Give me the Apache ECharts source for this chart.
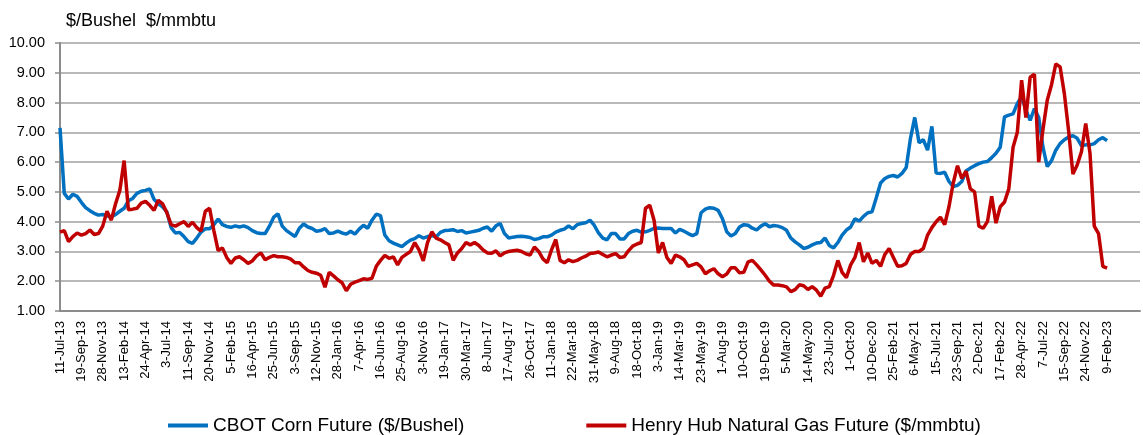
<!DOCTYPE html>
<html>
<head>
<meta charset="utf-8">
<script src="https://cdn.jsdelivr.net/npm/echarts@6/dist/echarts.min.js"></script>
<style>
  html, body { margin: 0; padding: 0; background: #fff; }
  #chart { width: 1143px; height: 435px; }
</style>
</head>
<body>
<div id="chart"></div>
<script>
// x-axis labels, one every 5 data points (each point ~10 trading days)
const tickLabels = ['11-Jul-13', '19-Sep-13', '28-Nov-13', '13-Feb-14', '24-Apr-14', '3-Jul-14', '11-Sep-14', '20-Nov-14',
  '5-Feb-15', '16-Apr-15', '25-Jun-15', '3-Sep-15', '12-Nov-15', '28-Jan-16', '7-Apr-16', '16-Jun-16', '25-Aug-16',
  '3-Nov-16', '19-Jan-17', '30-Mar-17', '8-Jun-17', '17-Aug-17', '26-Oct-17', '11-Jan-18', '22-Mar-18', '31-May-18',
  '9-Aug-18', '18-Oct-18', '3-Jan-19', '14-Mar-19', '23-May-19', '1-Aug-19', '10-Oct-19', '19-Dec-19', '5-Mar-20',
  '14-May-20', '23-Jul-20', '1-Oct-20', '10-Dec-20', '25-Feb-21', '6-May-21', '15-Jul-21', '23-Sep-21', '2-Dec-21',
  '17-Feb-22', '28-Apr-22', '7-Jul-22', '15-Sep-22', '24-Nov-22', '9-Feb-23'];

const seriesNames = ['CBOT Corn Future ($/Bushel)', 'Henry Hub Natural Gas Future ($/mmbtu)'];

// CBOT corn, $/bushel
const corn = [
  7.15, 4.95, 4.76, 4.92, 4.85, 4.65, 4.47, 4.37, 4.28, 4.22,
  4.24, 4.2, 4.16, 4.24, 4.35, 4.45, 4.7, 4.78, 4.95, 5.02,
  5.05, 5.1, 4.75, 4.6, 4.5, 4.33, 3.8, 3.62, 3.64, 3.5,
  3.33, 3.27, 3.45, 3.65, 3.76, 3.76, 3.9, 4.09, 3.9, 3.84,
  3.81, 3.86, 3.82, 3.86, 3.8, 3.7, 3.63, 3.6, 3.6, 3.85,
  4.15, 4.26, 3.85, 3.7, 3.6, 3.5, 3.78, 3.92, 3.82, 3.77,
  3.68, 3.7, 3.77, 3.6, 3.62, 3.68, 3.62, 3.58, 3.68, 3.58,
  3.75, 3.88, 3.78, 4.05, 4.25, 4.2, 3.55, 3.36, 3.28, 3.22,
  3.16, 3.28, 3.38, 3.43, 3.53, 3.45, 3.5, 3.53, 3.49, 3.64,
  3.7, 3.71, 3.73, 3.67, 3.7, 3.62, 3.65, 3.68, 3.71, 3.78,
  3.82, 3.68, 3.86, 3.94, 3.6, 3.45, 3.48, 3.5, 3.51, 3.49,
  3.47, 3.4, 3.43, 3.49, 3.49, 3.55, 3.65, 3.71, 3.75, 3.86,
  3.76, 3.9, 3.94, 3.96, 4.05, 3.88, 3.62, 3.45, 3.39, 3.6,
  3.6, 3.42, 3.42, 3.6, 3.68, 3.71, 3.65, 3.66, 3.71, 3.78,
  3.79, 3.77, 3.77, 3.77, 3.62, 3.74, 3.68, 3.6, 3.53, 3.6,
  4.3, 4.42, 4.47, 4.45, 4.38, 4.1, 3.66, 3.52, 3.6, 3.82,
  3.9, 3.88, 3.78, 3.72, 3.85, 3.93, 3.83, 3.87, 3.85, 3.8,
  3.71, 3.45, 3.32, 3.22, 3.1, 3.14, 3.22, 3.28, 3.3, 3.45,
  3.2, 3.12, 3.3, 3.55, 3.72, 3.82, 4.1, 4.02, 4.18, 4.3,
  4.33, 4.8, 5.3, 5.45, 5.52, 5.55, 5.5, 5.62, 5.82, 6.8,
  7.5, 6.65, 6.75, 6.4, 7.2, 5.63, 5.62, 5.66, 5.35, 5.18,
  5.22, 5.35, 5.7, 5.8, 5.88, 5.95, 6.0, 6.02, 6.15, 6.3,
  6.5, 7.52, 7.58, 7.62, 7.97, 8.2, 7.75, 7.4, 7.8, 7.5,
  6.5, 5.85, 6.05, 6.4, 6.62, 6.75, 6.84, 6.89, 6.8, 6.55,
  6.58, 6.58, 6.62, 6.75, 6.82, 6.72
];

// Henry Hub natural gas, $/mmbtu
const gas = [
  3.65, 3.7, 3.33, 3.5, 3.62, 3.55, 3.6, 3.72, 3.57, 3.6,
  3.85, 4.35, 4.05, 4.6, 5.05, 6.05, 4.4, 4.42, 4.45, 4.62,
  4.68, 4.55, 4.38, 4.72, 4.6, 4.3, 3.9, 3.85, 3.93, 4.0,
  3.84, 3.98, 3.8, 3.68, 4.35, 4.45, 3.7, 3.03, 3.12, 2.8,
  2.6, 2.78, 2.82, 2.72, 2.6, 2.68, 2.85, 2.95, 2.72, 2.8,
  2.86, 2.82, 2.82, 2.8, 2.74, 2.62, 2.62, 2.48, 2.36, 2.3,
  2.27, 2.2, 1.8, 2.3, 2.18, 2.05, 1.95, 1.68, 1.9, 1.97,
  2.02, 2.08, 2.06, 2.1, 2.5, 2.7, 2.87, 2.77, 2.82, 2.55,
  2.8, 2.9, 3.0, 3.3, 3.05, 2.68, 3.3, 3.66, 3.45, 3.39,
  3.3, 3.22, 2.7, 2.95, 3.1, 3.3, 3.22, 3.3, 3.2, 3.05,
  2.95, 2.94, 3.02, 2.85, 2.95, 3.0, 3.02, 3.04, 3.0, 2.92,
  2.88, 3.15, 3.0, 2.75, 2.62, 3.05, 3.4, 2.7, 2.62, 2.72,
  2.66, 2.7, 2.78, 2.84, 2.93, 2.95, 2.98, 2.9, 2.82, 2.88,
  2.93, 2.8, 2.82, 3.02, 3.18, 3.25, 3.3, 4.45, 4.55, 4.05,
  2.95, 3.3, 2.8, 2.6, 2.88, 2.82, 2.72, 2.5, 2.55, 2.6,
  2.48, 2.25, 2.35, 2.42, 2.25, 2.15, 2.24, 2.45, 2.45, 2.28,
  2.3, 2.65, 2.7, 2.55, 2.38, 2.2, 2.0, 1.87, 1.87, 1.85,
  1.81, 1.65, 1.72, 1.88, 1.85, 1.72, 1.82, 1.7, 1.5, 1.77,
  1.82, 2.2, 2.7, 2.3, 2.12, 2.55, 2.8, 3.3, 2.65, 2.95,
  2.6, 2.7, 2.5, 2.9, 3.1, 2.8, 2.5, 2.52, 2.6, 2.9,
  3.0, 3.0, 3.1, 3.55, 3.8, 4.0, 4.15, 3.9, 4.5, 5.3,
  5.88, 5.45, 5.7, 5.1, 5.0, 3.85, 3.78, 4.0, 4.85, 3.95,
  4.5, 4.66, 5.1, 6.5, 7.0, 8.75, 7.5, 8.85, 8.95, 6.0,
  7.1, 8.08, 8.6, 9.3, 9.2, 8.3, 7.05, 5.6, 5.9, 6.35,
  7.3, 6.3, 3.85, 3.6, 2.5, 2.44
];

const font = 'Liberation Sans, Arial, sans-serif';
const myChart = echarts.init(document.getElementById('chart'));

const option = {
  animation: false,
  textStyle: { fontFamily: font, color: '#000' },
  title: {
    text: '$/Bushel  $/mmbtu',
    left: 61,
    top: 7,
    textStyle: { fontFamily: font, fontSize: 18, fontWeight: 'normal', color: '#000' }
  },
  grid: { left: 60, right: 3, top: 43, bottom: 124, containLabel: false },
  legend: {
    data: seriesNames,
    left: 163,
    top: 411,
    icon: 'rect',
    itemWidth: 40,
    itemHeight: 4,
    itemGap: 122,
    textStyle: { fontFamily: font, fontSize: 19, color: '#000' }
  },
  xAxis: {
    type: 'value',
    min: 0,
    max: 252.7,
    interval: 5,
    axisLine: { show: true, lineStyle: { color: '#8c8c8c', width: 2 } },
    axisTick: { show: false },
    splitLine: { show: false },
    axisLabel: {
      rotate: 90,
      margin: 10,
      fontSize: 13,
      color: '#000',
      showMaxLabel: false,
      formatter: function (v) {
        const k = Math.round(v / 5);
        return Math.abs(v - k * 5) < 1e-6 && tickLabels[k] ? tickLabels[k] : '';
      }
    }
  },
  yAxis: {
    type: 'value',
    min: 1,
    max: 10,
    interval: 1,
    axisLine: { show: true, lineStyle: { color: '#8c8c8c', width: 2 } },
    axisTick: { show: true, length: 5, lineStyle: { color: '#8c8c8c', width: 1.5 } },
    splitLine: { show: true, lineStyle: { color: '#a0a0a0', width: 1.5 } },
    axisLabel: {
      margin: 15,
      fontSize: 14.5,
      color: '#000',
      formatter: v => v.toFixed(2)
    }
  },
  series: [
    {
      name: seriesNames[0],
      type: 'line',
      data: corn.map((v, i) => [i, v]),
      showSymbol: false,
      lineStyle: { color: '#0070C0', width: 3.5 },
      itemStyle: { color: '#0070C0' }
    },
    {
      name: seriesNames[1],
      type: 'line',
      data: gas.map((v, i) => [i, v]),
      showSymbol: false,
      lineStyle: { color: '#C00000', width: 3.5 },
      itemStyle: { color: '#C00000' }
    }
  ]
};

myChart.setOption(option);
</script>
</body>
</html>
